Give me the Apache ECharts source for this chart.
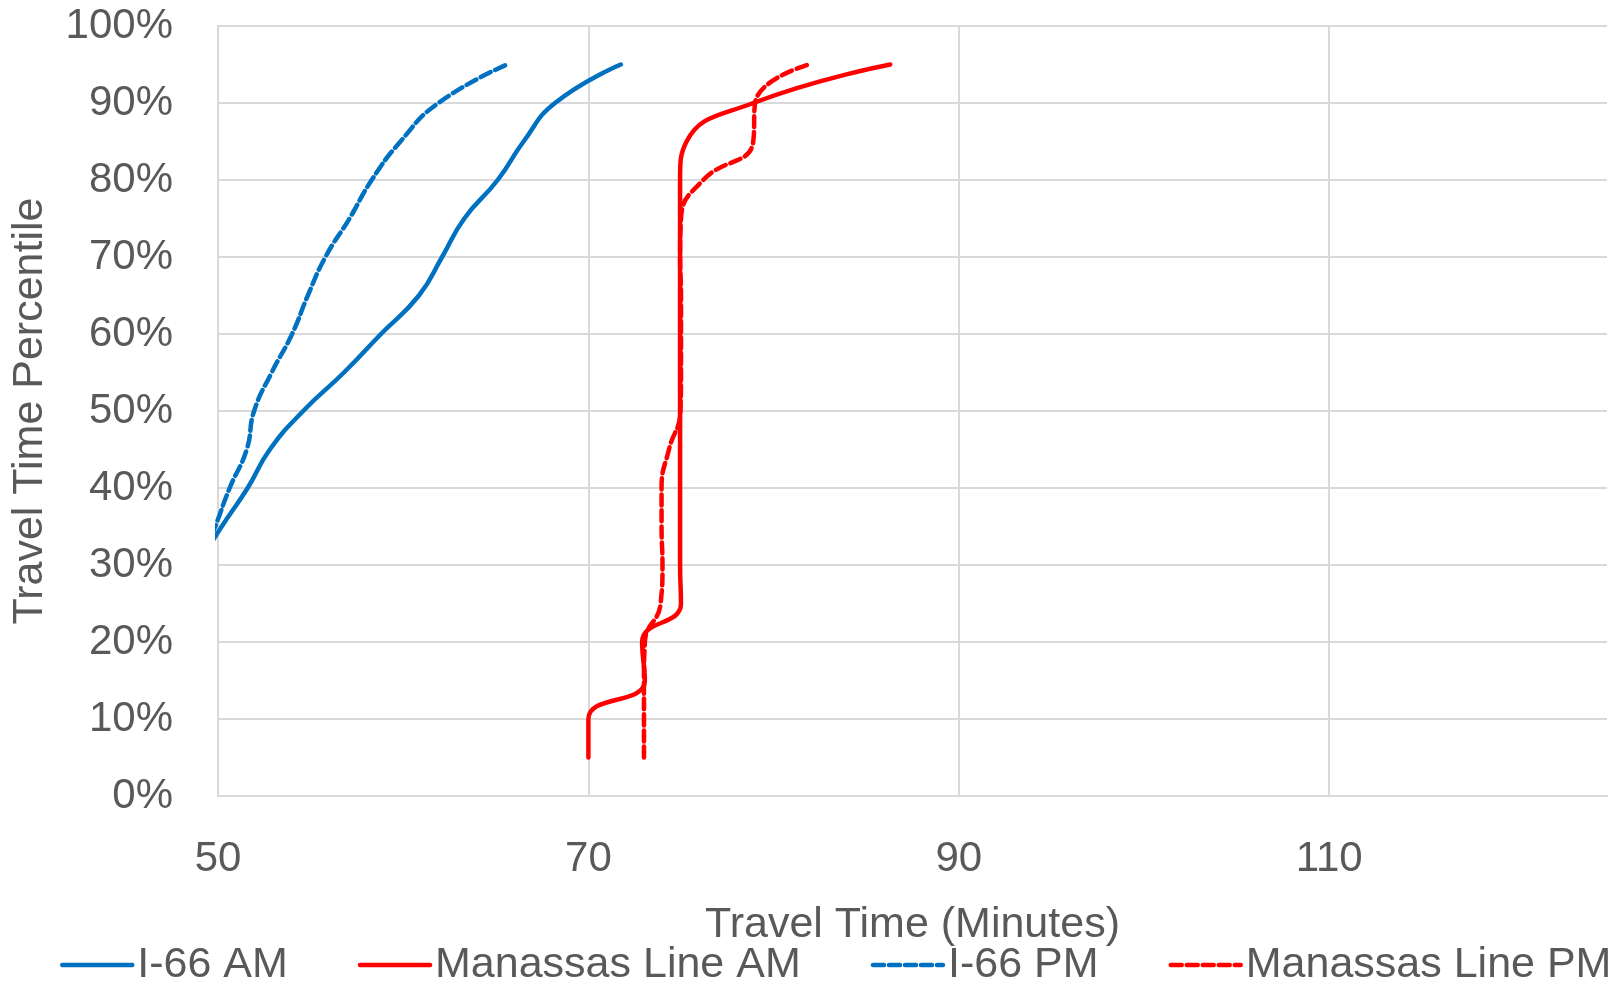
<!DOCTYPE html>
<html>
<head>
<meta charset="utf-8">
<script src="https://cdn.jsdelivr.net/npm/echarts@6/dist/echarts.min.js"></script>
<style>
html,body{margin:0;padding:0;background:#fff;}
#chart{width:1621px;height:984px;}
</style>
</head>
<body>
<div id="chart"></div>
<script>
// Percentile levels (%)
const percentiles = [5, 10, 15, 20, 25, 30, 35, 40, 45, 50, 55, 60, 65, 70, 75, 80, 85, 90, 95];
// Travel times (minutes); null = no value in that percentile
const i66AM       = [null, null, null, null, null, 48.9, 50.2, 51.6, 52.8, 54.6, 56.8, 58.8, 60.85, 62.1, 63.3, 65.1, 66.5, 68.2, 71.75];
const manassasAM  = [70.0, 70.0, 73.05, 72.9, 75.0, 74.95, 74.95, 74.95, 74.95, 74.95, 74.95, 74.95, 74.95, 74.95, 74.95, 74.95, 75.3, 78.9, 86.3];
const i66PM       = [null, null, null, null, null, 49.0, 49.85, 50.63, 51.55, 51.95, 52.9, 54.0, 54.85, 55.8, 57.1, 58.3, 59.85, 61.9, 65.6];
const manassasPM  = [73.0, 73.0, 73.0, 73.05, 73.9, 74.0, 73.95, 73.95, 74.35, 74.97, 75.0, 75.0, 75.0, 74.95, 75.0, 76.2, 78.9, 79.0, 81.9];

const seriesNames = ['I-66 AM', 'Manassas Line AM', 'I-66 PM', 'Manassas Line PM'];
const xTicks = { min: 50, max: 125, interval: 20 };
const yTicks = { min: 0, max: 100, interval: 10 };

function pairs(vals) {
  const out = [];
  vals.forEach((v, i) => { if (v !== null) out.push([v, percentiles[i]]); });
  return out;
}

const FONT = '"Liberation Sans", Arial, sans-serif';
const TXT = '#595959';
const BLUE = '#0070C0';
const RED = '#FF0000';

function mk(name, vals, color, dashed) {
  return {
    name: name,
    type: 'line',
    data: pairs(vals),
    smooth: 0.5,
    symbol: 'none',
    showSymbol: false,
    clip: true,
    lineStyle: { color: color, width: 4.5, type: dashed ? [11, 5] : 'solid', cap: 'round' },
    itemStyle: { color: color },
    emphasis: { disabled: true },
    animation: false
  };
}

const chart = echarts.init(document.getElementById('chart'), null, { renderer: 'canvas' });
chart.setOption({
  animation: false,
  backgroundColor: '#fff',
  grid: { left: 218, right: 14, top: 26, bottom: 188, containLabel: false },
  xAxis: {
    type: 'value',
    min: xTicks.min, max: xTicks.max, interval: xTicks.interval,
    name: 'Travel Time (Minutes)',
    nameLocation: 'middle',
    nameGap: 108,
    nameTextStyle: { fontFamily: FONT, fontSize: 43, color: TXT },
    axisLine: { show: true, lineStyle: { color: '#D9D9D9', width: 2 } },
    axisTick: { show: false },
    axisLabel: { fontFamily: FONT, fontSize: 42, color: TXT, margin: 42, showMaxLabel: false },
    splitLine: { show: true, showMaxLine: false, lineStyle: { color: '#D9D9D9', width: 2 } }
  },
  yAxis: {
    type: 'value',
    min: yTicks.min, max: yTicks.max, interval: yTicks.interval,
    name: 'Travel Time Percentile',
    nameLocation: 'middle',
    nameRotate: 90,
    nameGap: 166,
    nameTextStyle: { fontFamily: FONT, fontSize: 43, color: TXT },
    axisLine: { show: true, lineStyle: { color: '#D9D9D9', width: 2 } },
    axisTick: { show: false },
    axisLabel: { fontFamily: FONT, fontSize: 42, color: TXT, margin: 45, formatter: '{value}%' },
    splitLine: { show: true, lineStyle: { color: '#D9D9D9', width: 2 } }
  },
  legend: {
    data: seriesNames,
    left: 55,
    width: 1566,
    top: 937,
    padding: 5,
    itemWidth: 70,
    itemHeight: 14,
    itemGap: 70,
    itemStyle: { color: 'rgba(0,0,0,0)', borderWidth: 0, opacity: 0 },
    lineStyle: { width: 4.5 },
    textStyle: { fontFamily: FONT, fontSize: 43, color: TXT, lineHeight: 46 }
  },
  series: [
    mk(seriesNames[0], i66AM, BLUE, false),
    mk(seriesNames[1], manassasAM, RED, false),
    mk(seriesNames[2], i66PM, BLUE, true),
    mk(seriesNames[3], manassasPM, RED, true)
  ]
});
</script>
</body>
</html>
